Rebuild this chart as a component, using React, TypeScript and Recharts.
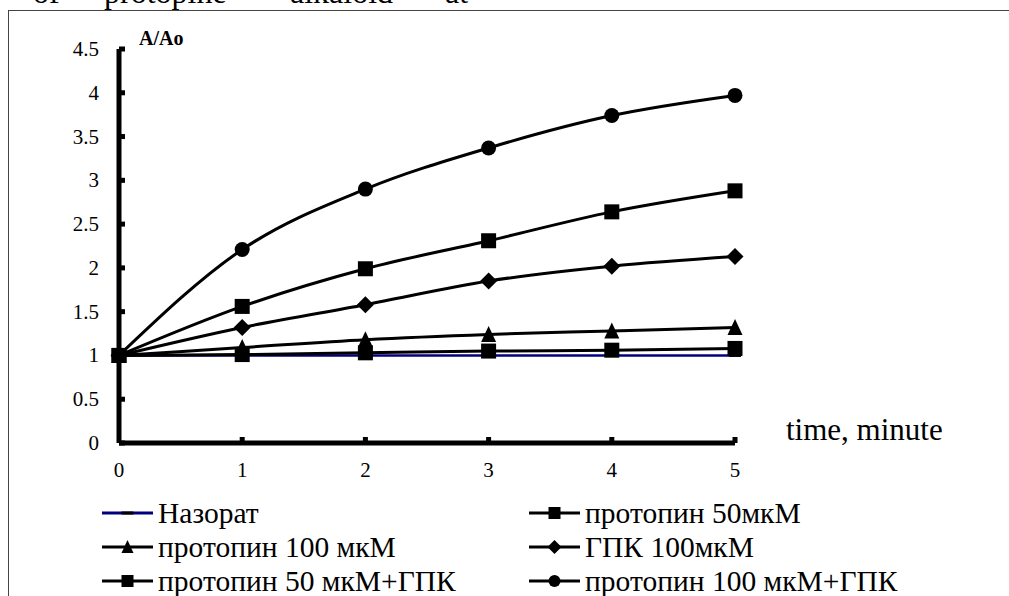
import React from 'react';
import { LineChart, Line, XAxis, YAxis, Legend } from 'recharts';

const FONT = '"Liberation Serif", "Times New Roman", serif';

// time, minutes
const minutes = [0, 1, 2, 3, 4, 5];
// A/Ao for each series
const control = [1, 1, 1, 1, 1, 1];
const protopine50 = [1, 1.01, 1.03, 1.05, 1.06, 1.08];
const protopine100 = [1, 1.09, 1.18, 1.24, 1.28, 1.32];
const gpk100 = [1, 1.32, 1.58, 1.85, 2.02, 2.13];
const protopine50Gpk = [1, 1.56, 1.99, 2.31, 2.64, 2.88];
const protopine100Gpk = [1, 2.21, 2.9, 3.37, 3.74, 3.97];

const yTicks = [0, 0.5, 1, 1.5, 2, 2.5, 3, 3.5, 4, 4.5];
const headerWords = ['of', 'protopine', 'alkaloid', 'at'];

const series = [
  { key: 'control', name: 'Назорат', values: control, color: '#000080', shape: 'dash' },
  { key: 'p50', name: 'протопин 50мкМ', values: protopine50, color: '#000', shape: 'square' },
  { key: 'p100', name: 'протопин 100 мкМ', values: protopine100, color: '#000', shape: 'triangle' },
  { key: 'gpk', name: 'ГПК 100мкМ', values: gpk100, color: '#000', shape: 'diamond' },
  { key: 'p50gpk', name: 'протопин 50 мкМ+ГПК', values: protopine50Gpk, color: '#000', shape: 'square' },
  { key: 'p100gpk', name: 'протопин 100 мкМ+ГПК', values: protopine100Gpk, color: '#000', shape: 'circle' },
];

const rows = minutes.map((m, i) => {
  const row: Record<string, number> = { t: m };
  series.forEach(s => { row[s.key] = s.values[i]; });
  return row;
});

const Marker = ({ shape, cx, cy, size = 15 }: { shape: string; cx: number; cy: number; size?: number }) => {
  const h = size / 2;
  if (shape === 'square') return <rect x={cx - h} y={cy - h} width={size} height={size} fill="#000" />;
  if (shape === 'circle') return <circle cx={cx} cy={cy} r={h} fill="#000" />;
  if (shape === 'diamond')
    return <polygon points={`${cx},${cy - h - 1} ${cx + h + 1},${cy} ${cx},${cy + h + 1} ${cx - h - 1},${cy}`} fill="#000" />;
  if (shape === 'triangle')
    return <polygon points={`${cx},${cy - h - 1} ${cx + h},${cy + h} ${cx - h},${cy + h}`} fill="#000" />;
  return <rect x={cx - 6} y={cy - 1.5} width={12} height={3} fill="#000" />;
};

const YTick = (props: any) => {
  const { x, y, payload } = props;
  return (
    <g>
      <rect x={x} y={y - 2.5} width={6} height={5} fill="#000" />
      <text x={x - 20} y={y + 7} textAnchor="end" fontSize={21} fontFamily={FONT} fill="#000">
        {payload.value}
      </text>
    </g>
  );
};

const XTick = (props: any) => {
  const { x, y, payload } = props;
  return (
    <g>
      {payload.value > 0 && <rect x={x - 2.5} y={y - 6} width={5} height={6} fill="#000" />}
      <text x={x} y={y + 34} textAnchor="middle" fontSize={21} fontFamily={FONT} fill="#000">
        {payload.value}
      </text>
    </g>
  );
};

const LegendBox = () => (
  <div style={{ position: 'relative', width: 850, height: 102, fontFamily: FONT, fontSize: 29.5, lineHeight: '34px', color: '#000' }}>
    {series.map((s, i) => {
      const col = i % 2;
      const row = Math.floor(i / 2);
      return (
        <div
          key={s.key}
          style={{ position: 'absolute', left: col ? 427 : 0, top: row * 34, display: 'flex', alignItems: 'center', whiteSpace: 'nowrap' }}
        >
          <svg width={51} height={34} style={{ display: 'block' }}>
            <line x1={0} y1={17} x2={51} y2={17} stroke={s.color} strokeWidth={3} />
            <Marker shape={s.shape} cx={25.5} cy={17} size={12} />
          </svg>
          <span style={{ marginLeft: 5 }}>{s.name}</span>
        </div>
      );
    })}
  </div>
);

export default function App() {
  return (
    <div style={{ position: 'absolute', left: 0, top: 0, width: 1009, height: 596, overflow: 'hidden', background: '#fff', fontFamily: FONT }}>
      {headerWords.map((w, i) => (
        <span
          key={w}
          style={{
            position: 'absolute',
            left: [33, 104, 290, 445][i],
            top: -23,
            fontFamily: FONT,
            fontSize: 32,
            lineHeight: '31px',
            whiteSpace: 'nowrap',
          }}
        >
          {w}
        </span>
      ))}
      <div style={{ position: 'absolute', left: 8, top: 10, width: 1100, height: 700, borderLeft: '1px solid #444', borderTop: '1px solid #444' }} />
      <div style={{ position: 'absolute', left: 0, top: 0 }}>
        <LineChart width={1009} height={596} data={rows} margin={{ top: 49, right: 274, bottom: 113, left: 59 }}>
          <XAxis
            dataKey="t"
            type="number"
            domain={[0, 5]}
            ticks={minutes}
            height={40}
            tickSize={0}
            tickMargin={0}
            tickLine={false}
            axisLine={{ stroke: '#000', strokeWidth: 5 }}
            tick={<XTick />}
            label={{
              content: (p: any) => (
                <text x={p.viewBox.x + p.viewBox.width + 51} y={p.viewBox.y - 3} fontSize={31} fontFamily={FONT} fill="#000">
                  time, minute
                </text>
              ),
            }}
          />
          <YAxis
            type="number"
            domain={[0, 4.5]}
            ticks={yTicks}
            width={60}
            tickSize={0}
            tickMargin={0}
            tickLine={false}
            axisLine={{ stroke: '#000', strokeWidth: 5 }}
            tick={<YTick />}
            label={{
              content: (p: any) => (
                <text x={p.viewBox.x + p.viewBox.width + 20} y={p.viewBox.y - 4} fontSize={20} fontWeight="bold" fontFamily={FONT} fill="#000">
                  A/Ao
                </text>
              ),
            }}
          />
          {series.map(s => (
            <Line
              key={s.key}
              dataKey={s.key}
              name={s.name}
              type="monotone"
              stroke={s.color}
              strokeWidth={s.key === 'control' ? 2.5 : 3}
              isAnimationActive={false}
              dot={(p: any) => <Marker key={`${s.key}-${p.index}`} shape={s.shape} cx={p.cx} cy={p.cy} />}
              activeDot={false}
            />
          ))}
          <Legend
            layout="horizontal"
            verticalAlign="middle"
            align="center"
            wrapperStyle={{ left: 102, top: 496, width: 850, height: 102 }}
            content={() => <LegendBox />}
          />
        </LineChart>
      </div>
    </div>
  );
}
